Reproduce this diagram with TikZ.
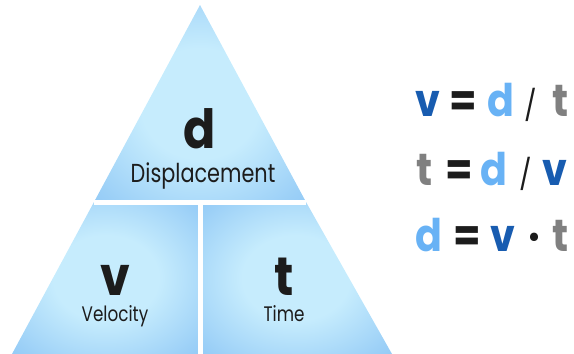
\documentclass[tikz,border=0pt]{standalone}
\usepackage{fontspec}
\setmainfont{Poppins}
\newfontfamily\labelfont[FakeStretch=0.8]{Poppins}
\newfontfamily\bigfont[FakeStretch=0.88]{Poppins}
\usetikzlibrary{positioning,calc}
\definecolor{tri-edge}{RGB}{120,184,242}
\definecolor{tri-light}{RGB}{198,236,253}
\definecolor{eq-v}{RGB}{24,92,176}
\definecolor{eq-d}{RGB}{104,178,245}
\definecolor{eq-t}{RGB}{128,128,128}
\definecolor{ink}{RGB}{28,28,28}
\pgfdeclareradialshading{softglow}{\pgfpoint{0bp}{0bp}}{%
  color(0bp)=(tri-light); color(14bp)=(tri-light);
  color(32bp)=(tri-light!45!tri-edge); color(50bp)=(tri-edge)}

\begin{document}
\begin{tikzpicture}[x=1pt, y=-1pt,
    region/.style={shading=softglow},
    gap/.style={white, line width=5pt},
    letter/.style={font=\bigfont\fontsize{54}{54}\selectfont\bfseries, text=ink, inner sep=0pt, anchor=base},
    word/.style={font=\labelfont\fontsize{21}{21}\selectfont, text=ink, inner sep=0pt, anchor=base},
    sym/.style={font=\bigfont\fontsize{45}{45}\selectfont\bfseries, inner sep=0pt, anchor=base},
    op/.style={sym, text=ink},
    slash/.style={font=\bigfont\fontsize{30}{30}\selectfont, text=ink, inner sep=0pt, anchor=base}]

    \useasboundingbox (0,0) rectangle (574,354);

    % Corners
    \coordinate (apex) at (200,5);
    \coordinate (bl) at (12,354);
    \coordinate (br) at (392,354);
    \coordinate (ml) at (94,202);
    \coordinate (mr) at (306,202);
    \coordinate (mc) at (200,202);
    \coordinate (bc) at (200,354);

    % Regions
    \shade[region] (apex) -- (mr) -- (ml) -- cycle;
    \shade[region] (ml) -- (mc) -- (bc) -- (bl) -- cycle;
    \shade[region] (mc) -- (mr) -- (br) -- (bc) -- cycle;

    % Gaps
    \draw[gap] (ml) -- (mr);
    \draw[gap] (mc) -- (bc);

    % Labels
    \node[letter] (d) at (200,148) {d};
    \node[word, font=\labelfont\fontsize{26}{26}\selectfont] (disp) at (203,182) {Displacement};
    \node[letter] (v) at (115,295) {v};
    \node[word] (vel) at (115,321) {Velocity};
    \node[letter] (t) at (284,295) {t};
    \node[word] (time) at (284,321) {Time};

    % Formula 1: v = d / t
    \node[sym, text=eq-v] (v1) at (428,116) {v};
    \node[op] (eq1) at (463,116) {=};
    \node[sym, text=eq-d] (d1) at (501,116) {d};
    \node[slash] (sl1) at (531,116) {/};
    \node[sym, text=eq-t] (t1) at (561,116) {t};
    % Formula 2: t = d / v
    \node[sym, text=eq-t] (t2) at (425,185) {t};
    \node[op] (eq2) at (459,185) {=};
    \node[sym, text=eq-d] (d2) at (494,185) {d};
    \node[slash] (sl2) at (526,185) {/};
    \node[sym, text=eq-v] (v2) at (555,185) {v};
    % Formula 3: d = v . t
    \node[sym, text=eq-d] (d3) at (429,251) {d};
    \node[op] (eq3) at (467,251) {=};
    \node[sym, text=eq-v] (v3) at (503,251) {v};
    \node[op] (dot3) at (534,251) {\char"00B7};
    \node[sym, text=eq-t] (t3) at (561,251) {t};
\end{tikzpicture}
\end{document}
